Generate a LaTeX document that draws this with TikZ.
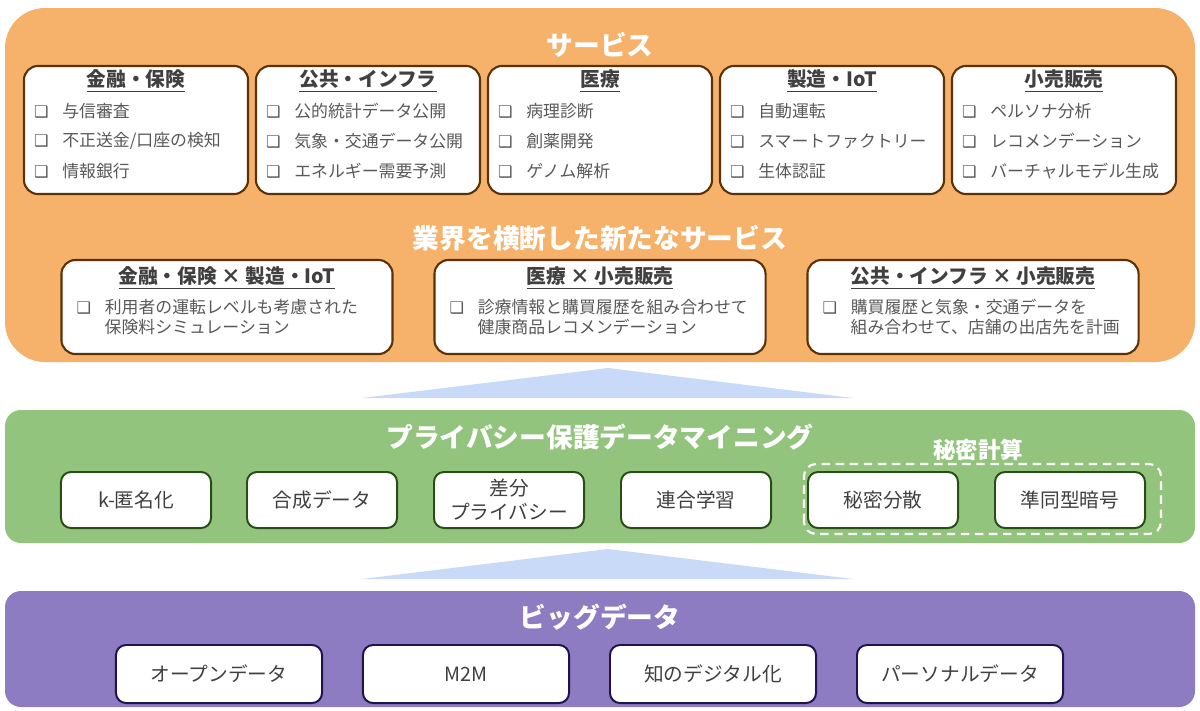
\documentclass[tikz,border=0pt]{standalone}
\usepackage{fontspec}
\setmainfont{Noto Sans CJK JP}
\newfontfamily\symfont{DejaVu Sans}
\usetikzlibrary{positioning, calc}
\definecolor{svcorange}{HTML}{F6B26B}
\definecolor{pdmgreen}{HTML}{93C47D}
\definecolor{bigpurple}{HTML}{8E7CC3}
\definecolor{arrowblue}{HTML}{C9DAF8}
\definecolor{brownline}{HTML}{5B3208}
\definecolor{greenline}{HTML}{274E13}
\definecolor{navyline}{HTML}{20124D}
\definecolor{textgray}{HTML}{595959}
\definecolor{headgray}{HTML}{404040}
\newcommand{\chk}{\makebox[20pt][l]{\symfont\fontsize{11.5}{11.5}\selectfont ❑}}

\begin{document}
\begin{tikzpicture}[
    x=0.025cm, y=-0.025cm,
    svcbox/.style={
        draw=brownline,
        line width=1.5pt,
        rounded corners=0.35cm,
        fill=white,
        minimum width=5.6cm,
        minimum height=3.2cm
    },
    crossbox/.style={
        svcbox,
        minimum width=8.275cm,
        minimum height=2.35cm
    },
    techbox/.style={
        draw=greenline,
        line width=1.4pt,
        rounded corners=0.25cm,
        fill=white,
        minimum width=3.75cm,
        minimum height=1.4cm,
        align=center,
        text=headgray,
        font=\fontsize{14}{17}\selectfont
    },
    databox/.style={
        techbox,
        draw=navyline,
        minimum width=5.15cm,
        minimum height=1.45cm
    },
    boxhead/.style={
        inner sep=0pt,
        text=headgray,
        font=\bfseries\fontsize{14}{14}\selectfont
    },
    itemline/.style={
        anchor=west,
        inner sep=0pt,
        text=textgray,
        font=\fontsize{12}{12}\selectfont
    },
    paneltitle/.style={
        inner sep=0pt,
        text=white,
        font=\bfseries\fontsize{19}{19}\selectfont
    }
]
\useasboundingbox (0,0) rectangle (1200,710);

% ------------------------------------------------
% Panels and arrows
% ------------------------------------------------
\fill[svcorange, rounded corners=1cm] (5,8) rectangle (1195,362);
\fill[pdmgreen, rounded corners=0.4cm] (5,410) rectangle (1195,543);
\fill[bigpurple, rounded corners=0.4cm] (5,591) rectangle (1195,707);

\fill[arrowblue] (362,398) -- (608,368) -- (853,398) -- cycle;
\fill[arrowblue] (362,579) -- (608,549) -- (853,579) -- cycle;

% ------------------------------------------------
% Services
% ------------------------------------------------
\node[paneltitle] (svc-t) at (600,45) {サービス};

\node[svcbox] (fin) at (136,130) {};
\node[svcbox] (pub) at (368,130) {};
\node[svcbox] (med) at (600,130) {};
\node[svcbox] (mfg) at (832,130) {};
\node[svcbox] (ret) at (1064,130) {};

\node[boxhead] (fin-h) at ($(fin.north)+(0,16)$) {\underline{金融・保険}};
\node[boxhead] (pub-h) at ($(pub.north)+(0,16)$) {\underline{公共・インフラ}};
\node[boxhead] (med-h) at ($(med.north)+(0,16)$) {\underline{医療}};
\node[boxhead] (mfg-h) at ($(mfg.north)+(0,16)$) {\underline{製造・IoT}};
\node[boxhead] (ret-h) at ($(ret.north)+(0,16)$) {\underline{小売販売}};

\foreach \txt [count=\i] in {与信審査, 不正送金/口座の検知, 情報銀行}
  \node[itemline] (fin-\i) at ($(fin.north west)+(11,16+30*\i)$) {\chk\txt};
\foreach \txt [count=\i] in {公的統計データ公開, 気象・交通データ公開, エネルギー需要予測}
  \node[itemline] (pub-\i) at ($(pub.north west)+(11,16+30*\i)$) {\chk\txt};
\foreach \txt [count=\i] in {病理診断, 創薬開発, ゲノム解析}
  \node[itemline] (med-\i) at ($(med.north west)+(11,16+30*\i)$) {\chk\txt};
\foreach \txt [count=\i] in {自動運転, スマートファクトリー, 生体認証}
  \node[itemline] (mfg-\i) at ($(mfg.north west)+(11,16+30*\i)$) {\chk\txt};
\foreach \txt [count=\i] in {ペルソナ分析, レコメンデーション, バーチャルモデル生成}
  \node[itemline] (ret-\i) at ($(ret.north west)+(11,16+30*\i)$) {\chk\txt};

% ------------------------------------------------
% Cross-industry services
% ------------------------------------------------
\node[paneltitle] (cross-t) at (600,238) {業界を横断した新たなサービス};

\node[crossbox] (finmfg) at (227,307) {};
\node[crossbox] (medret) at (600,307) {};
\node[crossbox] (pubret) at (973,307) {};

\node[boxhead] (finmfg-h) at ($(finmfg.north)+(0,19)$) {\underline{金融・保険 × 製造・IoT}};
\node[boxhead] (medret-h) at ($(medret.north)+(0,19)$) {\underline{医療 × 小売販売}};
\node[boxhead] (pubret-h) at ($(pubret.north)+(0,19)$) {\underline{公共・インフラ × 小売販売}};

\node[itemline] (finmfg-1) at ($(finmfg.north west)+(16,48)$) {\chk 利用者の運転レベルも考慮された};
\node[itemline] (finmfg-2) at ($(finmfg.north west)+(44,68)$) {保険料シミュレーション};
\node[itemline] (medret-1) at ($(medret.north west)+(16,48)$) {\chk 診療情報と購買履歴を組み合わせて};
\node[itemline] (medret-2) at ($(medret.north west)+(44,68)$) {健康商品レコメンデーション};
\node[itemline] (pubret-1) at ($(pubret.north west)+(16,48)$) {\chk 購買履歴と気象・交通データを};
\node[itemline] (pubret-2) at ($(pubret.north west)+(44,68)$) {組み合わせて、店舗の出店先を計画};

% ------------------------------------------------
% Privacy-preserving data mining
% ------------------------------------------------
\node[paneltitle] (pdm-t) at (600,437) {プライバシー保護データマイニング};

\node[techbox] (kanon) at (136,500) {k-匿名化};
\node[techbox] (synth) at (322,500) {合成データ};
\node[techbox] (dp)    at (509,500) {差分\\プライバシー};
\node[techbox] (fl)    at (696,500) {連合学習};
\node[techbox] (ss)    at (883,500) {秘密分散};
\node[techbox] (he)    at (1070,500) {準同型暗号};

\draw[white, line width=1.5pt, dash pattern=on 6pt off 4pt, rounded corners=0.3cm]
  ($(ss.south west)+(-3,5)$) rectangle ($(he.north east)+(15,-7)$);
\node[paneltitle, font=\bfseries\fontsize{16}{16}\selectfont] (smc-t) at (978,450) {秘密計算};

% ------------------------------------------------
% Big data
% ------------------------------------------------
\node[paneltitle] (big-t) at (600,617) {ビッグデータ};

\node[databox] (od)  at (219,674) {オープンデータ};
\node[databox] (m2m) at (466,674) {M2M};
\node[databox] (dig) at (713,674) {知のデジタル化};
\node[databox] (pd)  at (960,674) {パーソナルデータ};

\end{tikzpicture}
\end{document}
